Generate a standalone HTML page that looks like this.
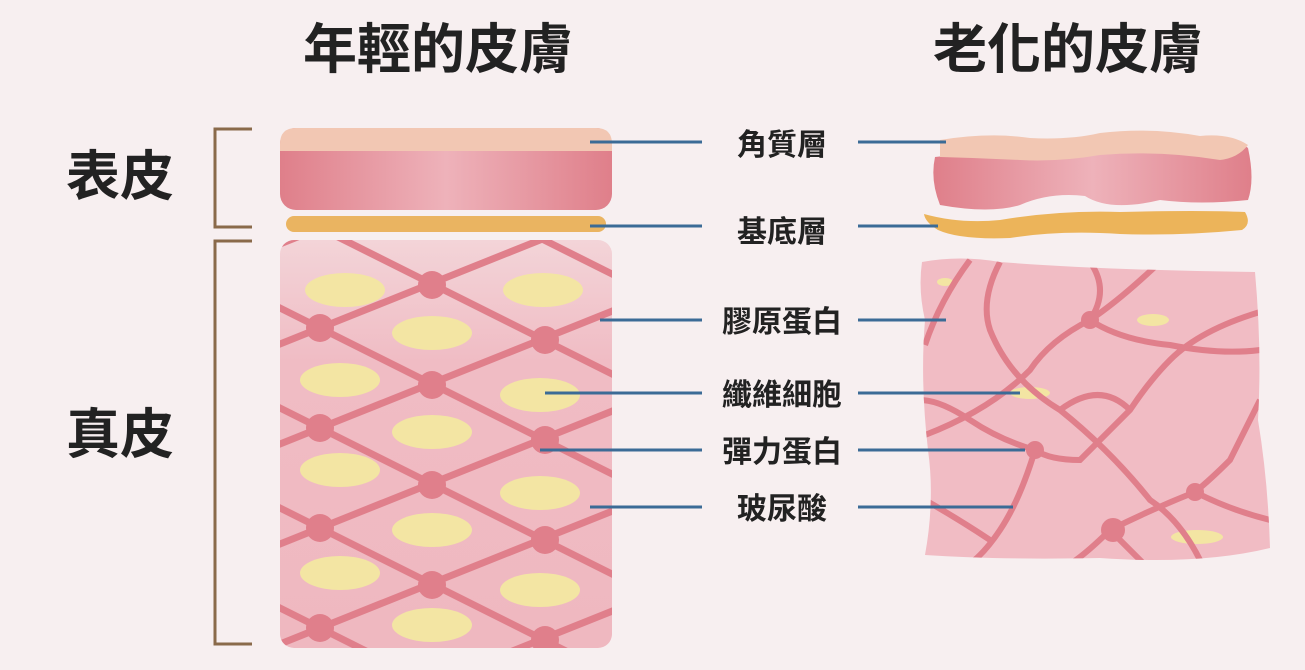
<!DOCTYPE html>
<html><head><meta charset="utf-8"><style>
html,body{margin:0;padding:0;background:#f7eff0;overflow:hidden;width:1305px;height:670px}
svg{display:block}
text{font-family:"Liberation Sans","Noto Sans CJK TC",sans-serif;font-weight:bold;fill:#222}
</style></head><body>
<svg width="1305" height="670" viewBox="0 0 1305 670" xmlns="http://www.w3.org/2000/svg">
<defs>
<linearGradient id="ep" x1="0" x2="1" y1="0" y2="0">
<stop offset="0" stop-color="#df7f8a"/><stop offset="0.5" stop-color="#eeb2ba"/><stop offset="1" stop-color="#df7f8a"/>
</linearGradient>
<linearGradient id="dm" x1="0" x2="0" y1="0" y2="1">
<stop offset="0" stop-color="#f3d4d8"/><stop offset="0.3" stop-color="#f0bcc4"/><stop offset="1" stop-color="#efb8c0"/>
</linearGradient>
<clipPath id="yc"><rect x="280" y="240" width="332" height="408" rx="14"/></clipPath>
<clipPath id="oc"><path d="M922 262 Q960 255 1000 262 Q1100 270 1255 272 Q1262 350 1258 420 Q1268 480 1270 548 Q1200 565 1100 558 Q1000 560 925 555 Q935 500 928 450 Q920 380 925 320 Q918 290 922 262Z"/></clipPath>
</defs>
<text x="438" y="68" font-size="54" text-anchor="middle">年輕的皮膚</text>
<text x="1068" y="68" font-size="54" text-anchor="middle">老化的皮膚</text>
<text x="120" y="195" font-size="54" text-anchor="middle">表皮</text>
<text x="120" y="453" font-size="54" text-anchor="middle">真皮</text>
<g stroke="#8a6a4a" stroke-width="3" fill="none">
<path d="M252 129 H215 V227 H252"/>
<path d="M252 241 H215 V644 H252"/>
</g>
<rect x="280" y="128" width="332" height="82" rx="16" fill="url(#ep)"/>
<path d="M296 128 H596 Q612 128 612 144 V151 H280 V144 Q280 128 296 128Z" fill="#f2c7b3"/>
<rect x="286" y="216" width="320" height="16" rx="8" fill="#eab461"/>
<rect x="280" y="240" width="332" height="408" rx="14" fill="url(#dm)"/>
<g clip-path="url(#yc)">
<g fill="#f3e5a3">
<ellipse cx="345" cy="290" rx="40" ry="17"/><ellipse cx="543" cy="290" rx="40" ry="17"/>
<ellipse cx="432" cy="333" rx="40" ry="17"/><ellipse cx="340" cy="380" rx="40" ry="17"/>
<ellipse cx="540" cy="395" rx="40" ry="17"/><ellipse cx="432" cy="432" rx="40" ry="17"/>
<ellipse cx="340" cy="470" rx="40" ry="17"/><ellipse cx="540" cy="493" rx="40" ry="17"/>
<ellipse cx="432" cy="530" rx="40" ry="17"/><ellipse cx="340" cy="573" rx="40" ry="17"/>
<ellipse cx="540" cy="590" rx="40" ry="17"/><ellipse cx="432" cy="625" rx="40" ry="17"/>
</g>
<g stroke="#e07f8b" stroke-width="7" fill="none">
<path d="M250 156 L650 -4"/><path d="M250 256 L650 96"/><path d="M250 356 L650 196"/><path d="M250 456 L650 296"/><path d="M250 556 L650 396"/><path d="M250 656 L650 496"/><path d="M250 756 L650 596"/><path d="M250 856 L650 696"/>
<path d="M250 93 L650 293"/><path d="M250 193 L650 393"/><path d="M250 293 L650 493"/><path d="M250 393 L650 593"/><path d="M250 493 L650 693"/><path d="M250 593 L650 793"/><path d="M250 -7 L650 193"/>
</g>
<g fill="#e07f8b">
<circle cx="432" cy="285" r="14"/><circle cx="320" cy="328" r="14"/><circle cx="545" cy="340" r="14"/>
<circle cx="432" cy="385" r="14"/><circle cx="320" cy="428" r="14"/><circle cx="545" cy="440" r="14"/>
<circle cx="432" cy="485" r="14"/><circle cx="320" cy="528" r="14"/><circle cx="545" cy="540" r="14"/>
<circle cx="432" cy="585" r="14"/><circle cx="320" cy="628" r="14"/><circle cx="545" cy="640" r="14"/>
</g>
</g>
<path d="M935 157 Q1000 150 1040 155 Q1080 148 1100 140 Q1150 130 1210 138 Q1240 140 1248 148 Q1255 180 1248 200 Q1200 205 1160 200 Q1110 212 1085 196 Q1050 192 1020 205 Q990 214 940 205 Q930 180 935 157Z" fill="url(#ep)"/>
<path d="M940 140 Q990 132 1030 138 Q1070 140 1100 133 Q1150 127 1200 136 Q1230 133 1248 145 Q1238 158 1220 160 Q1160 150 1100 155 Q1060 162 1020 160 Q980 158 940 157Z" fill="#f2c7b3"/>
<path d="M924 214 Q960 224 1000 220 Q1060 210 1120 212 Q1200 210 1245 212 Q1252 224 1242 230 Q1180 236 1120 234 Q1060 230 1010 238 Q960 240 938 230 Q925 222 924 214Z" fill="#ecb45a"/>
<path d="M922 262 Q960 255 1000 262 Q1100 270 1255 272 Q1262 350 1258 420 Q1268 480 1270 548 Q1200 565 1100 558 Q1000 560 925 555 Q935 500 928 450 Q920 380 925 320 Q918 290 922 262Z" fill="#f1bcc4"/>
<g clip-path="url(#oc)">
<g fill="#f3e5a3">
<ellipse cx="945" cy="282" rx="8" ry="4"/><ellipse cx="1153" cy="320" rx="16" ry="6"/><ellipse cx="1030" cy="393" rx="20" ry="6"/><ellipse cx="1197" cy="537" rx="26" ry="7"/>
</g>
<g stroke="#e07f8b" stroke-width="6" fill="none">
<path d="M970 260 Q940 300 925 345"/>
<path d="M1000 262 Q980 300 990 330 Q1010 380 1060 410 Q1110 450 1150 500 Q1180 520 1200 560"/>
<path d="M1090 262 Q1110 290 1090 320 Q1050 340 1030 370 Q990 410 925 435"/>
<path d="M1160 262 Q1120 300 1090 320 Q1120 340 1170 345 Q1220 355 1260 350"/>
<path d="M1260 312 Q1200 330 1170 360 Q1150 380 1130 410 Q1100 440 1080 460 Q1050 460 1035 450 Q1000 440 970 420 Q940 400 920 400"/>
<path d="M1260 400 Q1240 440 1230 460 Q1210 480 1195 492 Q1150 510 1110 530 Q1080 560 1060 570"/>
<path d="M1035 450 Q1020 500 1000 530 Q980 560 960 570"/>
<path d="M925 500 Q960 520 990 540"/>
<path d="M1110 530 Q1140 560 1150 570"/>
<path d="M1195 492 Q1230 510 1270 520"/>
<path d="M1060 410 Q1100 380 1130 410"/>
</g>
<g fill="#e07f8b">
<circle cx="1090" cy="320" r="9"/><circle cx="1035" cy="450" r="9"/><circle cx="1195" cy="492" r="9"/><circle cx="1113" cy="530" r="12"/>
</g>
</g>
<g stroke="#3b6b96" stroke-width="3">
<line x1="590" y1="142" x2="702" y2="142"/><line x1="858" y1="142" x2="946" y2="142"/>
<line x1="590" y1="226" x2="702" y2="226"/><line x1="858" y1="226" x2="938" y2="226"/>
<line x1="600" y1="320" x2="702" y2="320"/><line x1="858" y1="320" x2="946" y2="320"/>
<line x1="545" y1="393" x2="702" y2="393"/><line x1="858" y1="393" x2="1020" y2="393"/>
<line x1="540" y1="450" x2="702" y2="450"/><line x1="858" y1="450" x2="1025" y2="450"/>
<line x1="590" y1="507" x2="702" y2="507"/><line x1="858" y1="507" x2="1013" y2="507"/>
</g>
<g font-size="30" text-anchor="middle">
<text x="782" y="155">角質層</text>
<text x="782" y="242">基底層</text>
<text x="782" y="332">膠原蛋白</text>
<text x="782" y="405">纖維細胞</text>
<text x="782" y="462">彈力蛋白</text>
<text x="782" y="519">玻尿酸</text>
</g>
</svg>
</body></html>
